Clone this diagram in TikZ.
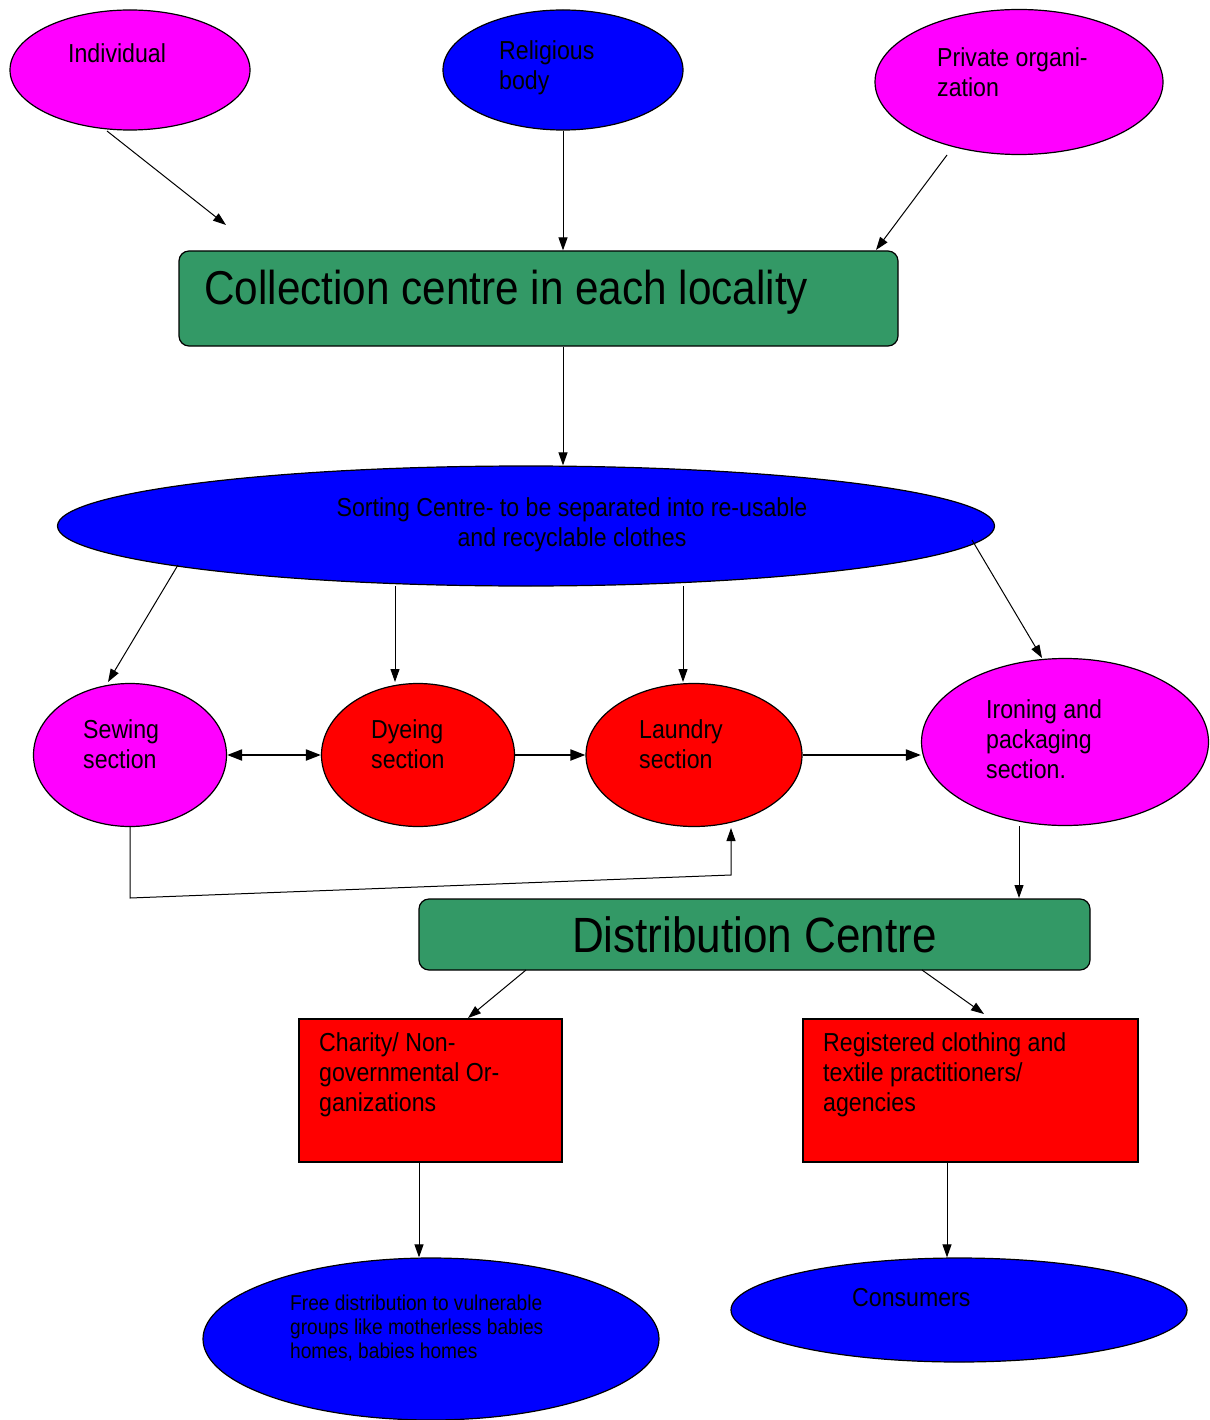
\documentclass[tikz,border=0pt]{standalone}
\usepackage{fontspec}
\setmainfont[FakeStretch=0.89]{Liberation Sans}
\usetikzlibrary{shapes.geometric,arrows.meta}
\definecolor{sheet}{HTML}{339966}
\definecolor{pink}{HTML}{FF00FF}

\begin{document}
\begin{tikzpicture}[x=1pt,y=-1pt,>={Triangle[length=13pt,width=9pt]},
    blob/.style={ellipse,draw,line width=1.2pt,inner sep=0pt},
    panel/.style={draw,rounded corners=10pt,line width=1.2pt,fill=sheet},
    card/.style={draw,line width=1.2pt,fill=red},
    lbl/.style={align=left,anchor=west,inner sep=0pt,font=\fontsize{26}{30}\selectfont},
    flow/.style={->,line width=1pt},
    link/.style={->,line width=2pt,>={Triangle[length=15pt,width=11pt]}}]
    \useasboundingbox (0,0) rectangle (1209,1420);

    % sources
    \node[blob,fill=pink,minimum width=240,minimum height=120] (ind) at (130,70) {};
    \node[lbl] (indT) at (68,53) {Individual};
    \node[blob,fill=blue,minimum width=240,minimum height=120] (rel) at (563,70) {};
    \node[lbl] (relT) at (499,68) {Religious\\body};
    \node[blob,fill=pink,minimum width=288,minimum height=145] (priv) at (1019,82) {};
    \node[lbl] (privT) at (937,72) {Private organi-\\zation};

    % collection
    \node[panel,minimum width=719,minimum height=95] (coll) at (538.5,298.5) {};
    \node[lbl,font=\fontsize{47.5}{50}\selectfont] (collT) at (204,292) {Collection centre in each locality};
    \coordinate (indE) at (226,225);
    \draw[flow] (107,131) -- (indE);
    \draw[flow] (rel.south) -- (rel.south |- coll.north);
    \draw[flow] (947,155) -- (876,250);

    % sorting
    \node[blob,fill=blue,minimum width=937,minimum height=120] (sort) at (526,526) {};
    \node[lbl,align=center,anchor=center] (sortT) at (572,525) {Sorting Centre- to be separated into re-usable\\and recyclable clothes};
    \draw[flow] (coll.south -| rel.south) -- (sort.north -| rel.south);

    % sections
    \node[blob,fill=pink,minimum width=193,minimum height=143] (sew) at (130,755) {};
    \node[lbl] (sewT) at (83,744) {Sewing\\section};
    \node[blob,fill=red,minimum width=193,minimum height=143] (dye) at (418,755) {};
    \node[lbl] (dyeT) at (371,744) {Dyeing\\section};
    \node[blob,fill=red,minimum width=216,minimum height=143] (laun) at (694,755) {};
    \node[lbl] (launT) at (639,744) {Laundry\\section};
    \node[blob,fill=pink,minimum width=287,minimum height=167] (iron) at (1065,742) {};
    \node[lbl] (ironT) at (986,739) {Ironing and\\packaging\\section.};

    \draw[flow] (178,565) -- (108,682);
    \draw[flow] (395,586) -- (395,682);
    \draw[flow] (683,586) -- (683,682);
    \draw[flow] (972,540) -- (1042,658);

    \draw[link,<->] (sew.east) -- (dye.west);
    \draw[link] (dye.east) -- (laun.west);
    \draw[link] (laun.east) -- (laun.east -| iron.west);
    \draw[flow] (sew.south) -- (130,898) -- (731,875) -- (731,828);

    % distribution
    \node[panel,minimum width=671,minimum height=71,font=\fontsize{49.5}{52}\selectfont] (dist) at (754.5,934.5) {Distribution Centre};
    \draw[flow] (1019,826) -- (1019,898);

    \node[card,minimum width=263,minimum height=143] (char) at (430.5,1090.5) {};
    \node[lbl] (charT) at (319,1075) {Charity/ Non-\\governmental Or-\\ganizations};
    \node[card,minimum width=335,minimum height=143] (reg) at (970.5,1090.5) {};
    \node[lbl] (regT) at (823,1075) {Registered clothing and\\textile practitioners/\\agencies};
    \draw[flow] (526,970) -- (468,1018);
    \draw[flow] (922,970) -- (984,1014);

    % receivers
    \node[blob,fill=blue,minimum width=456,minimum height=162] (free) at (431,1339) {};
    \node[lbl,font=\fontsize{21.5}{24}\selectfont] (freeT) at (290,1328) {Free distribution to vulnerable\\groups like motherless babies\\homes, babies homes};
    \node[blob,fill=blue,minimum width=456,minimum height=104] (cons) at (959,1310) {};
    \node[lbl] (consT) at (852,1298) {Consumers};
    \draw[flow] (419,1162) -- (free.north -| 419,0);
    \draw[flow] (947,1162) -- (cons.north -| 947,0);
\end{tikzpicture}
\end{document}
